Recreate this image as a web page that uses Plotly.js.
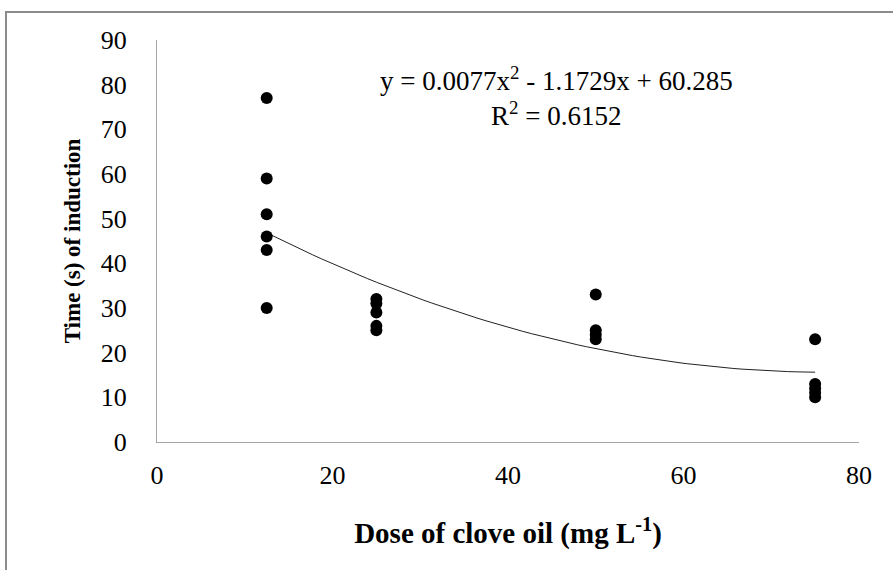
<!DOCTYPE html>
<html>
<head>
<meta charset="utf-8">
<script src="https://cdn.plot.ly/plotly-3.0.1.min.js"></script>
<style>html,body{margin:0;padding:0;background:#fff;}#chart{width:893px;height:570px;}</style>
</head>
<body>
<div id="chart"></div>
<script>
// Dose levels (mg L-1) and observed induction times (s)
var doses = [12.5, 25, 50, 75];
var timesDose12 = [77, 59, 51, 46, 43, 30];
var timesDose25 = [32, 31, 29, 26, 25];
var timesDose50 = [33, 25, 24, 23];
var timesDose75 = [23, 13, 12, 11, 10];
// Polynomial trendline coefficients shown on the chart: y = a x^2 + b x + c
var trendCoef = [0.0077, -1.1729, 60.285];
var xTicks = [0, 20, 40, 60, 80];
var yTicks = [0, 10, 20, 30, 40, 50, 60, 70, 80, 90];

var groups = [timesDose12, timesDose25, timesDose50, timesDose75];
var px = [], py = [];
groups.forEach(function (g, i) { g.forEach(function (v) { px.push(doses[i]); py.push(v); }); });

var tx = [], ty = [];
var x0 = doses[0], x1 = doses[doses.length - 1], n = 60;
for (var k = 0; k <= n; k++) {
  var x = x0 + (x1 - x0) * k / n;
  tx.push(x);
  ty.push(trendCoef[0] * x * x + trendCoef[1] * x + trendCoef[2]);
}

var serif = 'Liberation Serif, Times New Roman, serif';
var data = [
  {x: tx, y: ty, mode: 'lines', type: 'scatter', line: {color: '#222', width: 1}, hoverinfo: 'skip', showlegend: false},
  {x: px, y: py, mode: 'markers', type: 'scatter', marker: {color: '#000', size: 12}, showlegend: false}
];

var layout = {
  width: 893, height: 570,
  margin: {l: 157, r: 34, t: 40, b: 128},
  paper_bgcolor: '#fff', plot_bgcolor: '#fff',
  font: {family: serif, color: '#000', size: 26},
  xaxis: {
    range: [0, 80], tickvals: xTicks, ticktext: xTicks.map(String),
    showgrid: false, zeroline: false, showline: true, linecolor: '#a6a6a6', linewidth: 1,
    ticks: '', ticklabelstandoff: 10, tickfont: {family: serif, size: 26, color: '#000'},
    title: {text: '<b>Dose of clove oil (mg L<sup>-1</sup>)</b>', font: {family: serif, size: 29, color: '#000'}, standoff: 33}
  },
  yaxis: {
    range: [0, 90], tickvals: yTicks, ticktext: yTicks.map(String),
    showgrid: false, zeroline: false, showline: true, linecolor: '#a6a6a6', linewidth: 1,
    ticks: '', ticklabelstandoff: 24, tickfont: {family: serif, size: 26, color: '#000'},
    title: {text: '<b>Time (s) of induction</b>', font: {family: serif, size: 23, color: '#000'}, standoff: 13}
  },
  annotations: [{
    xref: 'paper', yref: 'paper', x: (556 - 157) / (893 - 157 - 34), y: (570 - 128 - 97) / (570 - 40 - 128),
    xanchor: 'center', yanchor: 'middle', align: 'center', showarrow: false,
    text: 'y = 0.0077x<sup>2</sup> - 1.1729x + 60.285<br>R<sup>2</sup> = 0.6152',
    font: {family: serif, size: 27, color: '#000'}
  }],
  shapes: [{
    type: 'rect', xref: 'paper', yref: 'paper',
    x0: (6 - 157) / (893 - 157 - 34), x1: 1.2,
    y0: -0.5, y1: (570 - 128 - 12) / (570 - 40 - 128),
    line: {color: '#8c8c8c', width: 2}, fillcolor: 'rgba(0,0,0,0)', layer: 'below'
  }]
};

Plotly.newPlot('chart', data, layout, {displayModeBar: false, staticPlot: true});
</script>
</body>
</html>
